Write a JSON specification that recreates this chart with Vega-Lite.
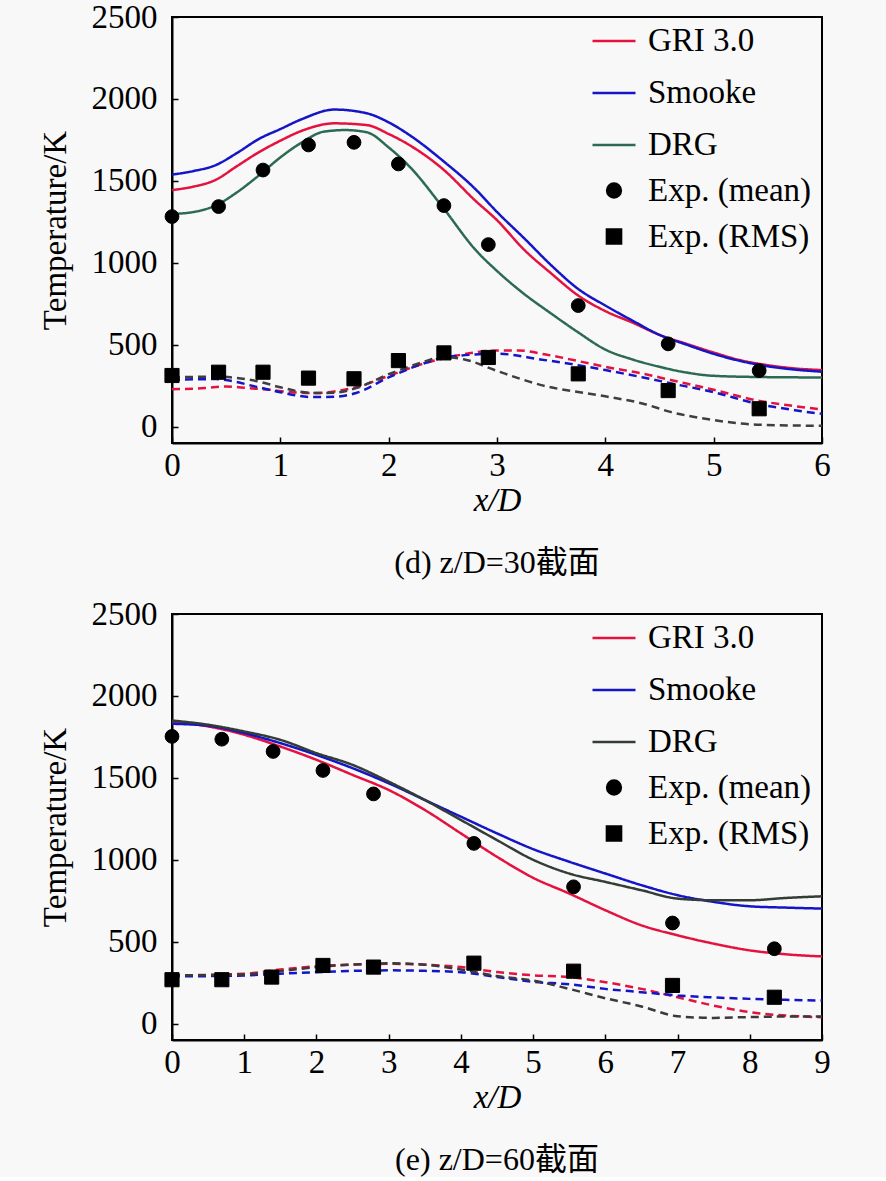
{
  "$schema": "https://vega.github.io/schema/vega-lite/v6.json",
  "background": "#f8f8f8",
  "padding": {"left": 38, "top": 0, "right": 58, "bottom": 0},
  "spacing": 17,
  "config": {
    "font": "Liberation Serif, Noto Sans CJK SC",
    "view": {"stroke": "black", "strokeWidth": 2},
    "axis": {
      "labelFont": "Liberation Serif", "labelFontSize": 33, "labelColor": "black", "labelFlush": false,
      "titleFont": "Liberation Serif", "titleFontSize": 33, "titleFontWeight": "normal", "titleColor": "black",
      "domainColor": "black", "domainWidth": 2, "tickColor": "black", "tickWidth": 1.5, "tickSize": -6,
      "grid": false, "format": "d"
    },
    "legend": {"labelLimit": 400},
    "title": {"font": "Liberation Serif, Noto Sans CJK SC", "fontSize": 32, "fontWeight": "normal", "color": "black"}
  },
  "datasets": {
    "top_lines": [
      {"series": "GRI 3.0", "kind": "mean", "x": 0, "T": 1444}, {"series": "GRI 3.0", "kind": "mean", "x": 0.2, "T": 1465},
      {"series": "GRI 3.0", "kind": "mean", "x": 0.4, "T": 1505}, {"series": "GRI 3.0", "kind": "mean", "x": 0.6, "T": 1590},
      {"series": "GRI 3.0", "kind": "mean", "x": 0.8, "T": 1674}, {"series": "GRI 3.0", "kind": "mean", "x": 1.0, "T": 1745},
      {"series": "GRI 3.0", "kind": "mean", "x": 1.2, "T": 1806}, {"series": "GRI 3.0", "kind": "mean", "x": 1.5, "T": 1851},
      {"series": "GRI 3.0", "kind": "mean", "x": 1.8, "T": 1840}, {"series": "GRI 3.0", "kind": "mean", "x": 2.0, "T": 1786},
      {"series": "GRI 3.0", "kind": "mean", "x": 2.2, "T": 1715}, {"series": "GRI 3.0", "kind": "mean", "x": 2.5, "T": 1572},
      {"series": "GRI 3.0", "kind": "mean", "x": 2.8, "T": 1379}, {"series": "GRI 3.0", "kind": "mean", "x": 3.0, "T": 1260},
      {"series": "GRI 3.0", "kind": "mean", "x": 3.25, "T": 1080}, {"series": "GRI 3.0", "kind": "mean", "x": 3.5, "T": 935},
      {"series": "GRI 3.0", "kind": "mean", "x": 3.75, "T": 800}, {"series": "GRI 3.0", "kind": "mean", "x": 4.0, "T": 705},
      {"series": "GRI 3.0", "kind": "mean", "x": 4.25, "T": 635}, {"series": "GRI 3.0", "kind": "mean", "x": 4.5, "T": 560},
      {"series": "GRI 3.0", "kind": "mean", "x": 4.75, "T": 505}, {"series": "GRI 3.0", "kind": "mean", "x": 5.0, "T": 452},
      {"series": "GRI 3.0", "kind": "mean", "x": 5.25, "T": 405}, {"series": "GRI 3.0", "kind": "mean", "x": 5.5, "T": 375},
      {"series": "GRI 3.0", "kind": "mean", "x": 5.75, "T": 355}, {"series": "GRI 3.0", "kind": "mean", "x": 6.0, "T": 345},

      {"series": "Smooke", "kind": "mean", "x": 0, "T": 1538}, {"series": "Smooke", "kind": "mean", "x": 0.2, "T": 1560},
      {"series": "Smooke", "kind": "mean", "x": 0.4, "T": 1595}, {"series": "Smooke", "kind": "mean", "x": 0.6, "T": 1670},
      {"series": "Smooke", "kind": "mean", "x": 0.8, "T": 1755}, {"series": "Smooke", "kind": "mean", "x": 1.0, "T": 1816},
      {"series": "Smooke", "kind": "mean", "x": 1.2, "T": 1877}, {"series": "Smooke", "kind": "mean", "x": 1.5, "T": 1935},
      {"series": "Smooke", "kind": "mean", "x": 1.8, "T": 1912}, {"series": "Smooke", "kind": "mean", "x": 2.0, "T": 1857},
      {"series": "Smooke", "kind": "mean", "x": 2.2, "T": 1776}, {"series": "Smooke", "kind": "mean", "x": 2.5, "T": 1623},
      {"series": "Smooke", "kind": "mean", "x": 2.8, "T": 1450}, {"series": "Smooke", "kind": "mean", "x": 3.0, "T": 1310},
      {"series": "Smooke", "kind": "mean", "x": 3.25, "T": 1150}, {"series": "Smooke", "kind": "mean", "x": 3.5, "T": 985},
      {"series": "Smooke", "kind": "mean", "x": 3.75, "T": 840}, {"series": "Smooke", "kind": "mean", "x": 4.0, "T": 739},
      {"series": "Smooke", "kind": "mean", "x": 4.25, "T": 647}, {"series": "Smooke", "kind": "mean", "x": 4.5, "T": 560},
      {"series": "Smooke", "kind": "mean", "x": 4.75, "T": 500}, {"series": "Smooke", "kind": "mean", "x": 5.0, "T": 444},
      {"series": "Smooke", "kind": "mean", "x": 5.25, "T": 400}, {"series": "Smooke", "kind": "mean", "x": 5.5, "T": 368},
      {"series": "Smooke", "kind": "mean", "x": 5.75, "T": 348}, {"series": "Smooke", "kind": "mean", "x": 6.0, "T": 335},

      {"series": "DRG", "kind": "mean", "x": 0, "T": 1298}, {"series": "DRG", "kind": "mean", "x": 0.2, "T": 1310},
      {"series": "DRG", "kind": "mean", "x": 0.4, "T": 1349}, {"series": "DRG", "kind": "mean", "x": 0.6, "T": 1430},
      {"series": "DRG", "kind": "mean", "x": 0.8, "T": 1532}, {"series": "DRG", "kind": "mean", "x": 1.0, "T": 1643},
      {"series": "DRG", "kind": "mean", "x": 1.2, "T": 1735}, {"series": "DRG", "kind": "mean", "x": 1.4, "T": 1800},
      {"series": "DRG", "kind": "mean", "x": 1.6, "T": 1810}, {"series": "DRG", "kind": "mean", "x": 1.8, "T": 1796},
      {"series": "DRG", "kind": "mean", "x": 2.0, "T": 1704}, {"series": "DRG", "kind": "mean", "x": 2.2, "T": 1582},
      {"series": "DRG", "kind": "mean", "x": 2.5, "T": 1338}, {"series": "DRG", "kind": "mean", "x": 2.8, "T": 1080},
      {"series": "DRG", "kind": "mean", "x": 3.0, "T": 950}, {"series": "DRG", "kind": "mean", "x": 3.25, "T": 810},
      {"series": "DRG", "kind": "mean", "x": 3.5, "T": 690}, {"series": "DRG", "kind": "mean", "x": 3.75, "T": 575},
      {"series": "DRG", "kind": "mean", "x": 4.0, "T": 470}, {"series": "DRG", "kind": "mean", "x": 4.25, "T": 410},
      {"series": "DRG", "kind": "mean", "x": 4.5, "T": 365}, {"series": "DRG", "kind": "mean", "x": 4.75, "T": 330},
      {"series": "DRG", "kind": "mean", "x": 5.0, "T": 310}, {"series": "DRG", "kind": "mean", "x": 5.5, "T": 302},
      {"series": "DRG", "kind": "mean", "x": 6.0, "T": 300},

      {"series": "GRI 3.0", "kind": "rms", "x": 0, "T": 228}, {"series": "GRI 3.0", "kind": "rms", "x": 0.3, "T": 235},
      {"series": "GRI 3.0", "kind": "rms", "x": 0.5, "T": 245}, {"series": "GRI 3.0", "kind": "rms", "x": 0.7, "T": 235},
      {"series": "GRI 3.0", "kind": "rms", "x": 0.9, "T": 225}, {"series": "GRI 3.0", "kind": "rms", "x": 1.1, "T": 210},
      {"series": "GRI 3.0", "kind": "rms", "x": 1.3, "T": 205}, {"series": "GRI 3.0", "kind": "rms", "x": 1.5, "T": 215},
      {"series": "GRI 3.0", "kind": "rms", "x": 1.7, "T": 240}, {"series": "GRI 3.0", "kind": "rms", "x": 2.0, "T": 310},
      {"series": "GRI 3.0", "kind": "rms", "x": 2.3, "T": 380}, {"series": "GRI 3.0", "kind": "rms", "x": 2.6, "T": 430},
      {"series": "GRI 3.0", "kind": "rms", "x": 2.8, "T": 453}, {"series": "GRI 3.0", "kind": "rms", "x": 3.0, "T": 465},
      {"series": "GRI 3.0", "kind": "rms", "x": 3.2, "T": 465}, {"series": "GRI 3.0", "kind": "rms", "x": 3.45, "T": 440},
      {"series": "GRI 3.0", "kind": "rms", "x": 3.75, "T": 400}, {"series": "GRI 3.0", "kind": "rms", "x": 4.0, "T": 365},
      {"series": "GRI 3.0", "kind": "rms", "x": 4.35, "T": 323}, {"series": "GRI 3.0", "kind": "rms", "x": 4.6, "T": 285},
      {"series": "GRI 3.0", "kind": "rms", "x": 5.0, "T": 225}, {"series": "GRI 3.0", "kind": "rms", "x": 5.4, "T": 160},
      {"series": "GRI 3.0", "kind": "rms", "x": 5.75, "T": 125}, {"series": "GRI 3.0", "kind": "rms", "x": 6.0, "T": 105},

      {"series": "Smooke", "kind": "rms", "x": 0, "T": 285}, {"series": "Smooke", "kind": "rms", "x": 0.4, "T": 290},
      {"series": "Smooke", "kind": "rms", "x": 0.8, "T": 240}, {"series": "Smooke", "kind": "rms", "x": 1.0, "T": 210},
      {"series": "Smooke", "kind": "rms", "x": 1.3, "T": 180}, {"series": "Smooke", "kind": "rms", "x": 1.5, "T": 182},
      {"series": "Smooke", "kind": "rms", "x": 1.7, "T": 205}, {"series": "Smooke", "kind": "rms", "x": 2.0, "T": 300},
      {"series": "Smooke", "kind": "rms", "x": 2.3, "T": 380}, {"series": "Smooke", "kind": "rms", "x": 2.5, "T": 420},
      {"series": "Smooke", "kind": "rms", "x": 2.8, "T": 440}, {"series": "Smooke", "kind": "rms", "x": 3.0, "T": 445},
      {"series": "Smooke", "kind": "rms", "x": 3.4, "T": 410}, {"series": "Smooke", "kind": "rms", "x": 3.75, "T": 375},
      {"series": "Smooke", "kind": "rms", "x": 4.0, "T": 345}, {"series": "Smooke", "kind": "rms", "x": 4.35, "T": 300},
      {"series": "Smooke", "kind": "rms", "x": 4.6, "T": 265}, {"series": "Smooke", "kind": "rms", "x": 5.0, "T": 210},
      {"series": "Smooke", "kind": "rms", "x": 5.4, "T": 140}, {"series": "Smooke", "kind": "rms", "x": 5.75, "T": 100},
      {"series": "Smooke", "kind": "rms", "x": 6.0, "T": 78},

      {"series": "DRG", "kind": "rms", "x": 0, "T": 300}, {"series": "DRG", "kind": "rms", "x": 0.4, "T": 305},
      {"series": "DRG", "kind": "rms", "x": 0.8, "T": 275}, {"series": "DRG", "kind": "rms", "x": 1.0, "T": 240},
      {"series": "DRG", "kind": "rms", "x": 1.3, "T": 205}, {"series": "DRG", "kind": "rms", "x": 1.5, "T": 207},
      {"series": "DRG", "kind": "rms", "x": 1.7, "T": 235}, {"series": "DRG", "kind": "rms", "x": 2.0, "T": 320},
      {"series": "DRG", "kind": "rms", "x": 2.3, "T": 390}, {"series": "DRG", "kind": "rms", "x": 2.5, "T": 425},
      {"series": "DRG", "kind": "rms", "x": 2.7, "T": 410}, {"series": "DRG", "kind": "rms", "x": 3.0, "T": 340},
      {"series": "DRG", "kind": "rms", "x": 3.4, "T": 255}, {"series": "DRG", "kind": "rms", "x": 4.0, "T": 185},
      {"series": "DRG", "kind": "rms", "x": 4.35, "T": 140}, {"series": "DRG", "kind": "rms", "x": 4.6, "T": 90},
      {"series": "DRG", "kind": "rms", "x": 5.0, "T": 40}, {"series": "DRG", "kind": "rms", "x": 5.4, "T": 12},
      {"series": "DRG", "kind": "rms", "x": 6.0, "T": 5}
    ],
    "top_exp": [
      {"series": "Exp. (mean)", "x": 0, "T": 1282}, {"series": "Exp. (mean)", "x": 0.43, "T": 1343},
      {"series": "Exp. (mean)", "x": 0.84, "T": 1566}, {"series": "Exp. (mean)", "x": 1.26, "T": 1719},
      {"series": "Exp. (mean)", "x": 1.68, "T": 1735}, {"series": "Exp. (mean)", "x": 2.09, "T": 1603},
      {"series": "Exp. (mean)", "x": 2.51, "T": 1349}, {"series": "Exp. (mean)", "x": 2.92, "T": 1111},
      {"series": "Exp. (mean)", "x": 3.75, "T": 739}, {"series": "Exp. (mean)", "x": 4.58, "T": 505},
      {"series": "Exp. (mean)", "x": 5.42, "T": 342},
      {"series": "Exp. (RMS)", "x": 0, "T": 312}, {"series": "Exp. (RMS)", "x": 0.43, "T": 332},
      {"series": "Exp. (RMS)", "x": 0.84, "T": 332}, {"series": "Exp. (RMS)", "x": 1.26, "T": 296},
      {"series": "Exp. (RMS)", "x": 1.68, "T": 292}, {"series": "Exp. (RMS)", "x": 2.09, "T": 403},
      {"series": "Exp. (RMS)", "x": 2.51, "T": 450}, {"series": "Exp. (RMS)", "x": 2.92, "T": 422},
      {"series": "Exp. (RMS)", "x": 3.75, "T": 322}, {"series": "Exp. (RMS)", "x": 4.58, "T": 220},
      {"series": "Exp. (RMS)", "x": 5.42, "T": 109}
    ],
    "bottom_lines": [
      {"series": "GRI 3.0", "kind": "mean", "x": 0, "T": 1844}, {"series": "GRI 3.0", "kind": "mean", "x": 0.5, "T": 1814},
      {"series": "GRI 3.0", "kind": "mean", "x": 1, "T": 1763}, {"series": "GRI 3.0", "kind": "mean", "x": 1.5, "T": 1691},
      {"series": "GRI 3.0", "kind": "mean", "x": 2, "T": 1610}, {"series": "GRI 3.0", "kind": "mean", "x": 2.5, "T": 1518},
      {"series": "GRI 3.0", "kind": "mean", "x": 3, "T": 1426}, {"series": "GRI 3.0", "kind": "mean", "x": 3.5, "T": 1304},
      {"series": "GRI 3.0", "kind": "mean", "x": 4, "T": 1161}, {"series": "GRI 3.0", "kind": "mean", "x": 4.5, "T": 1018},
      {"series": "GRI 3.0", "kind": "mean", "x": 5, "T": 890}, {"series": "GRI 3.0", "kind": "mean", "x": 5.5, "T": 794},
      {"series": "GRI 3.0", "kind": "mean", "x": 6, "T": 692}, {"series": "GRI 3.0", "kind": "mean", "x": 6.5, "T": 600},
      {"series": "GRI 3.0", "kind": "mean", "x": 7, "T": 539}, {"series": "GRI 3.0", "kind": "mean", "x": 7.5, "T": 488},
      {"series": "GRI 3.0", "kind": "mean", "x": 8, "T": 447}, {"series": "GRI 3.0", "kind": "mean", "x": 8.5, "T": 423},
      {"series": "GRI 3.0", "kind": "mean", "x": 9, "T": 410},

      {"series": "Smooke", "kind": "mean", "x": 0, "T": 1830}, {"series": "Smooke", "kind": "mean", "x": 0.5, "T": 1818},
      {"series": "Smooke", "kind": "mean", "x": 1, "T": 1773}, {"series": "Smooke", "kind": "mean", "x": 1.5, "T": 1712},
      {"series": "Smooke", "kind": "mean", "x": 2, "T": 1640}, {"series": "Smooke", "kind": "mean", "x": 2.5, "T": 1559},
      {"series": "Smooke", "kind": "mean", "x": 3, "T": 1467}, {"series": "Smooke", "kind": "mean", "x": 3.5, "T": 1365},
      {"series": "Smooke", "kind": "mean", "x": 4, "T": 1263}, {"series": "Smooke", "kind": "mean", "x": 4.5, "T": 1161},
      {"series": "Smooke", "kind": "mean", "x": 5, "T": 1065}, {"series": "Smooke", "kind": "mean", "x": 5.5, "T": 988},
      {"series": "Smooke", "kind": "mean", "x": 6, "T": 916}, {"series": "Smooke", "kind": "mean", "x": 6.5, "T": 845},
      {"series": "Smooke", "kind": "mean", "x": 7, "T": 784}, {"series": "Smooke", "kind": "mean", "x": 7.5, "T": 743},
      {"series": "Smooke", "kind": "mean", "x": 8, "T": 716}, {"series": "Smooke", "kind": "mean", "x": 8.5, "T": 708},
      {"series": "Smooke", "kind": "mean", "x": 9, "T": 702},

      {"series": "DRG", "kind": "mean", "x": 0, "T": 1850}, {"series": "DRG", "kind": "mean", "x": 0.5, "T": 1824},
      {"series": "DRG", "kind": "mean", "x": 1, "T": 1783}, {"series": "DRG", "kind": "mean", "x": 1.5, "T": 1732},
      {"series": "DRG", "kind": "mean", "x": 2, "T": 1651}, {"series": "DRG", "kind": "mean", "x": 2.5, "T": 1579},
      {"series": "DRG", "kind": "mean", "x": 3, "T": 1477}, {"series": "DRG", "kind": "mean", "x": 3.5, "T": 1365},
      {"series": "DRG", "kind": "mean", "x": 4, "T": 1243}, {"series": "DRG", "kind": "mean", "x": 4.5, "T": 1120},
      {"series": "DRG", "kind": "mean", "x": 5, "T": 1000}, {"series": "DRG", "kind": "mean", "x": 5.5, "T": 916},
      {"series": "DRG", "kind": "mean", "x": 6, "T": 865}, {"series": "DRG", "kind": "mean", "x": 6.5, "T": 814},
      {"series": "DRG", "kind": "mean", "x": 7, "T": 763}, {"series": "DRG", "kind": "mean", "x": 7.5, "T": 753},
      {"series": "DRG", "kind": "mean", "x": 8, "T": 753}, {"series": "DRG", "kind": "mean", "x": 8.5, "T": 767},
      {"series": "DRG", "kind": "mean", "x": 9, "T": 777},

      {"series": "GRI 3.0", "kind": "rms", "x": 0, "T": 294}, {"series": "GRI 3.0", "kind": "rms", "x": 1, "T": 304},
      {"series": "GRI 3.0", "kind": "rms", "x": 1.5, "T": 330}, {"series": "GRI 3.0", "kind": "rms", "x": 2, "T": 350},
      {"series": "GRI 3.0", "kind": "rms", "x": 2.5, "T": 360}, {"series": "GRI 3.0", "kind": "rms", "x": 3, "T": 365},
      {"series": "GRI 3.0", "kind": "rms", "x": 3.5, "T": 360}, {"series": "GRI 3.0", "kind": "rms", "x": 4, "T": 345},
      {"series": "GRI 3.0", "kind": "rms", "x": 4.5, "T": 315}, {"series": "GRI 3.0", "kind": "rms", "x": 5, "T": 295},
      {"series": "GRI 3.0", "kind": "rms", "x": 5.5, "T": 284}, {"series": "GRI 3.0", "kind": "rms", "x": 6, "T": 253},
      {"series": "GRI 3.0", "kind": "rms", "x": 6.5, "T": 212}, {"series": "GRI 3.0", "kind": "rms", "x": 7, "T": 161},
      {"series": "GRI 3.0", "kind": "rms", "x": 7.5, "T": 110}, {"series": "GRI 3.0", "kind": "rms", "x": 8, "T": 70},
      {"series": "GRI 3.0", "kind": "rms", "x": 8.5, "T": 49}, {"series": "GRI 3.0", "kind": "rms", "x": 9, "T": 39},

      {"series": "Smooke", "kind": "rms", "x": 0, "T": 288}, {"series": "Smooke", "kind": "rms", "x": 1, "T": 294},
      {"series": "Smooke", "kind": "rms", "x": 1.5, "T": 305}, {"series": "Smooke", "kind": "rms", "x": 2, "T": 314},
      {"series": "Smooke", "kind": "rms", "x": 2.5, "T": 322}, {"series": "Smooke", "kind": "rms", "x": 3, "T": 325},
      {"series": "Smooke", "kind": "rms", "x": 3.5, "T": 322}, {"series": "Smooke", "kind": "rms", "x": 4, "T": 314},
      {"series": "Smooke", "kind": "rms", "x": 4.5, "T": 285}, {"series": "Smooke", "kind": "rms", "x": 5, "T": 255},
      {"series": "Smooke", "kind": "rms", "x": 5.5, "T": 240}, {"series": "Smooke", "kind": "rms", "x": 6, "T": 212},
      {"series": "Smooke", "kind": "rms", "x": 6.5, "T": 192}, {"series": "Smooke", "kind": "rms", "x": 7, "T": 172},
      {"series": "Smooke", "kind": "rms", "x": 7.5, "T": 160}, {"series": "Smooke", "kind": "rms", "x": 8, "T": 151},
      {"series": "Smooke", "kind": "rms", "x": 8.5, "T": 145}, {"series": "Smooke", "kind": "rms", "x": 9, "T": 141},

      {"series": "DRG", "kind": "rms", "x": 0, "T": 294}, {"series": "DRG", "kind": "rms", "x": 1, "T": 300},
      {"series": "DRG", "kind": "rms", "x": 1.5, "T": 320}, {"series": "DRG", "kind": "rms", "x": 2, "T": 345},
      {"series": "DRG", "kind": "rms", "x": 2.5, "T": 360}, {"series": "DRG", "kind": "rms", "x": 3, "T": 368},
      {"series": "DRG", "kind": "rms", "x": 3.5, "T": 360}, {"series": "DRG", "kind": "rms", "x": 4, "T": 330},
      {"series": "DRG", "kind": "rms", "x": 4.5, "T": 290}, {"series": "DRG", "kind": "rms", "x": 5, "T": 263},
      {"series": "DRG", "kind": "rms", "x": 5.5, "T": 212}, {"series": "DRG", "kind": "rms", "x": 6, "T": 155},
      {"series": "DRG", "kind": "rms", "x": 6.5, "T": 105}, {"series": "DRG", "kind": "rms", "x": 7, "T": 45},
      {"series": "DRG", "kind": "rms", "x": 7.5, "T": 35}, {"series": "DRG", "kind": "rms", "x": 8, "T": 40},
      {"series": "DRG", "kind": "rms", "x": 8.5, "T": 43}, {"series": "DRG", "kind": "rms", "x": 9, "T": 43}
    ],
    "bottom_exp": [
      {"series": "Exp. (mean)", "x": 0, "T": 1753}, {"series": "Exp. (mean)", "x": 0.69, "T": 1736},
      {"series": "Exp. (mean)", "x": 1.4, "T": 1661}, {"series": "Exp. (mean)", "x": 2.09, "T": 1545},
      {"series": "Exp. (mean)", "x": 2.79, "T": 1402}, {"series": "Exp. (mean)", "x": 4.18, "T": 1100},
      {"series": "Exp. (mean)", "x": 5.56, "T": 835}, {"series": "Exp. (mean)", "x": 6.93, "T": 614},
      {"series": "Exp. (mean)", "x": 8.34, "T": 457},
      {"series": "Exp. (RMS)", "x": 0, "T": 268}, {"series": "Exp. (RMS)", "x": 0.69, "T": 268},
      {"series": "Exp. (RMS)", "x": 1.38, "T": 284}, {"series": "Exp. (RMS)", "x": 2.09, "T": 355},
      {"series": "Exp. (RMS)", "x": 2.79, "T": 345}, {"series": "Exp. (RMS)", "x": 4.18, "T": 369},
      {"series": "Exp. (RMS)", "x": 5.56, "T": 320}, {"series": "Exp. (RMS)", "x": 6.93, "T": 233},
      {"series": "Exp. (RMS)", "x": 8.34, "T": 161}
    ]
  },
  "vconcat": [
    {
      "width": 650,
      "height": 426,
      "title": {"text": "(d) z/D=30截面", "orient": "bottom", "offset": 31},
      "layer": [
        {
          "data": {"name": "top_lines"},
          "mark": {"type": "line", "interpolate": "monotone", "strokeWidth": 2.5},
          "encoding": {
            "x": {"field": "x", "type": "quantitative", "scale": {"domain": [0, 6], "nice": false},
                  "axis": {"values": [0, 1, 2, 3, 4, 5, 6], "title": "x/D", "titleFontStyle": "italic", "labelPadding": 12, "titlePadding": 2}},
            "y": {"field": "T", "type": "quantitative", "scale": {"domain": [-100, 2500], "nice": false},
                  "axis": {"values": [0, 500, 1000, 1500, 2000, 2500], "title": "Temperature/K", "labelPadding": 21, "titlePadding": 19}},
            "color": {"condition": {"test": "datum.kind === 'rms' && datum.series === 'DRG'", "value": "#3f3f3f"},
                      "field": "series", "type": "nominal",
                      "scale": {"domain": ["GRI 3.0", "Smooke", "DRG", "Exp. (mean)", "Exp. (RMS)"], "range": ["#e3123e", "#1515c8", "#2c6a52", "black", "black"]},
                      "legend": {"title": null, "orient": "none", "legendX": 419, "legendY": 1, "labelFont": "Liberation Serif", "labelFontSize": 33, "labelColor": "black", "labelLimit": 400, "symbolStrokeWidth": 2.5, "symbolFillColor": "black", "rowPadding": 12, "labelOffset": 11}},
            "strokeDash": {"field": "kind", "type": "nominal", "scale": {"domain": ["mean", "rms"], "range": [[1, 0], [8, 5]]}, "legend": null}
          }
        },
        {
          "data": {"name": "top_exp"},
          "mark": {"type": "point", "filled": false, "fill": "black", "strokeWidth": 1, "opacity": 1},
          "encoding": {
            "x": {"field": "x", "type": "quantitative"},
            "y": {"field": "T", "type": "quantitative"},
            "color": {"field": "series", "type": "nominal",
                      "scale": {"domain": ["GRI 3.0", "Smooke", "DRG", "Exp. (mean)", "Exp. (RMS)"], "range": ["#e3123e", "#1515c8", "#2c6a52", "black", "black"]},
                      "legend": {"title": null, "orient": "none", "legendX": 419, "legendY": 1, "labelFont": "Liberation Serif", "labelFontSize": 33, "labelColor": "black", "labelLimit": 400, "symbolStrokeWidth": 2.5, "symbolFillColor": "black", "rowPadding": 12, "labelOffset": 11}},
            "shape": {"field": "series", "type": "nominal",
                      "scale": {"domain": ["GRI 3.0", "Smooke", "DRG", "Exp. (mean)", "Exp. (RMS)"], "range": ["stroke", "stroke", "stroke", "circle", "square"]},
                      "legend": {"title": null, "orient": "none", "legendX": 419, "legendY": 1, "labelFont": "Liberation Serif", "labelFontSize": 33, "labelColor": "black", "labelLimit": 400, "symbolStrokeWidth": 2.5, "symbolFillColor": "black", "rowPadding": 12, "labelOffset": 11}},
            "size": {"field": "series", "type": "nominal",
                     "scale": {"type": "ordinal", "domain": ["GRI 3.0", "Smooke", "DRG", "Exp. (mean)", "Exp. (RMS)"], "range": [1849, 1849, 1849, 190, 200]},
                     "legend": {"title": null, "orient": "none", "legendX": 419, "legendY": 1, "labelFont": "Liberation Serif", "labelFontSize": 33, "labelColor": "black", "labelLimit": 400, "symbolStrokeWidth": 2.5, "symbolFillColor": "black", "rowPadding": 12, "labelOffset": 11}}
          }
        }
      ]
    },
    {
      "width": 650,
      "height": 426,
      "title": {"text": "(e) z/D=60截面", "orient": "bottom", "offset": 31},
      "layer": [
        {
          "data": {"name": "bottom_lines"},
          "mark": {"type": "line", "interpolate": "monotone", "strokeWidth": 2.5},
          "encoding": {
            "x": {"field": "x", "type": "quantitative", "scale": {"domain": [0, 9], "nice": false},
                  "axis": {"values": [0, 1, 2, 3, 4, 5, 6, 7, 8, 9], "title": "x/D", "titleFontStyle": "italic", "labelPadding": 12, "titlePadding": 2}},
            "y": {"field": "T", "type": "quantitative", "scale": {"domain": [-100, 2500], "nice": false},
                  "axis": {"values": [0, 500, 1000, 1500, 2000, 2500], "title": "Temperature/K", "labelPadding": 21, "titlePadding": 19}},
            "color": {"condition": {"test": "datum.kind === 'rms' && datum.series === 'DRG'", "value": "#3a3a3a"},
                      "field": "series", "type": "nominal",
                      "scale": {"domain": ["GRI 3.0", "Smooke", "DRG", "Exp. (mean)", "Exp. (RMS)"], "range": ["#e3123e", "#1515c8", "#333d36", "black", "black"]},
                      "legend": {"title": null, "orient": "none", "legendX": 419, "legendY": 1, "labelFont": "Liberation Serif", "labelFontSize": 33, "labelColor": "black", "labelLimit": 400, "symbolStrokeWidth": 2.5, "symbolFillColor": "black", "rowPadding": 12, "labelOffset": 11}},
            "strokeDash": {"field": "kind", "type": "nominal", "scale": {"domain": ["mean", "rms"], "range": [[1, 0], [8, 5]]}, "legend": null}
          }
        },
        {
          "data": {"name": "bottom_exp"},
          "mark": {"type": "point", "filled": false, "fill": "black", "strokeWidth": 1, "opacity": 1},
          "encoding": {
            "x": {"field": "x", "type": "quantitative"},
            "y": {"field": "T", "type": "quantitative"},
            "color": {"field": "series", "type": "nominal",
                      "scale": {"domain": ["GRI 3.0", "Smooke", "DRG", "Exp. (mean)", "Exp. (RMS)"], "range": ["#e3123e", "#1515c8", "#333d36", "black", "black"]},
                      "legend": {"title": null, "orient": "none", "legendX": 419, "legendY": 1, "labelFont": "Liberation Serif", "labelFontSize": 33, "labelColor": "black", "labelLimit": 400, "symbolStrokeWidth": 2.5, "symbolFillColor": "black", "rowPadding": 12, "labelOffset": 11}},
            "shape": {"field": "series", "type": "nominal",
                      "scale": {"domain": ["GRI 3.0", "Smooke", "DRG", "Exp. (mean)", "Exp. (RMS)"], "range": ["stroke", "stroke", "stroke", "circle", "square"]},
                      "legend": {"title": null, "orient": "none", "legendX": 419, "legendY": 1, "labelFont": "Liberation Serif", "labelFontSize": 33, "labelColor": "black", "labelLimit": 400, "symbolStrokeWidth": 2.5, "symbolFillColor": "black", "rowPadding": 12, "labelOffset": 11}},
            "size": {"field": "series", "type": "nominal",
                     "scale": {"type": "ordinal", "domain": ["GRI 3.0", "Smooke", "DRG", "Exp. (mean)", "Exp. (RMS)"], "range": [1849, 1849, 1849, 190, 200]},
                     "legend": {"title": null, "orient": "none", "legendX": 419, "legendY": 1, "labelFont": "Liberation Serif", "labelFontSize": 33, "labelColor": "black", "labelLimit": 400, "symbolStrokeWidth": 2.5, "symbolFillColor": "black", "rowPadding": 12, "labelOffset": 11}}
          }
        }
      ]
    }
  ],
  "resolve": {
    "scale": {"x": "independent", "y": "independent", "color": "independent", "shape": "independent", "size": "independent", "strokeDash": "independent"},
    "legend": {"color": "independent", "shape": "independent", "size": "independent"}
  }
}
